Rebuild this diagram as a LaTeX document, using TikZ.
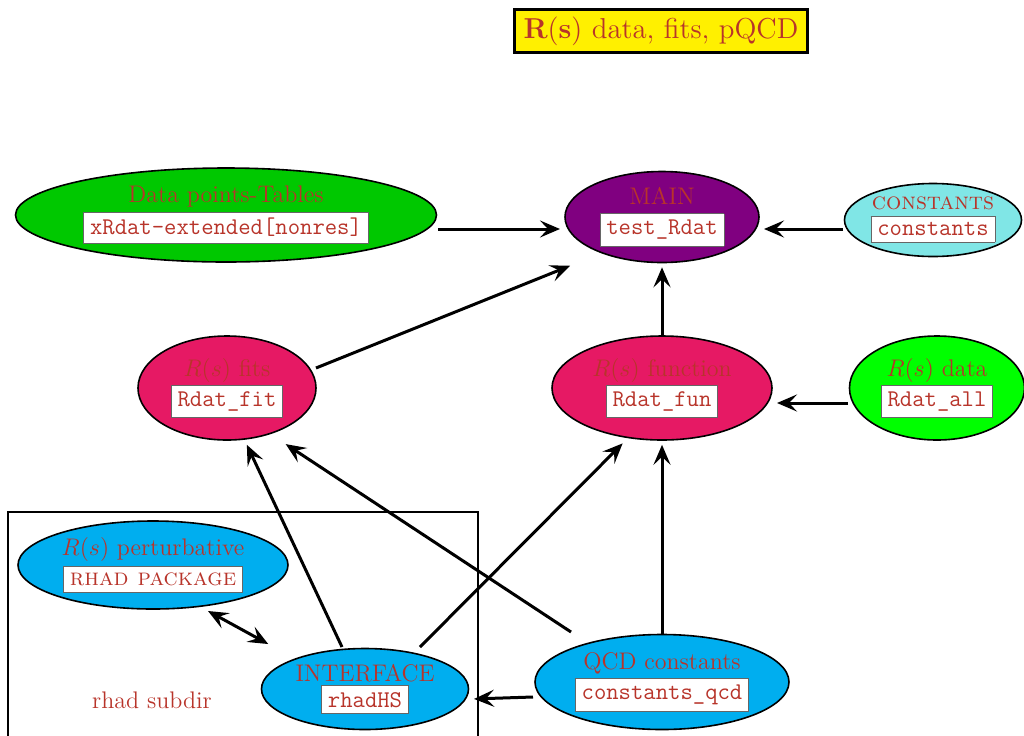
\documentclass[tikz,border=0pt]{standalone}
\usepackage{amsmath}
\usepackage{amssymb}
\usepackage{tikz}
\usetikzlibrary{arrows, arrows.meta, calc, shapes.geometric, positioning}
\usepackage{color}

\definecolor{txtred}{RGB}{184,52,42}
\definecolor{datagreen}{RGB}{0,200,0}
\definecolor{brightgreen}{RGB}{0,255,0}
\definecolor{mainviolet}{RGB}{128,0,128}
\definecolor{constcyan}{RGB}{128,230,230}
\definecolor{fitpink}{RGB}{230,25,100}
\definecolor{pqcdblue}{RGB}{0,174,239}
\definecolor{titleyellow}{RGB}{255,240,0}

\newcommand{\rfile}[1]{\fcolorbox{black!60}{white}{\texttt{#1}}}

\begin{document}
\begin{tikzpicture}[x=0.5pt, y=-0.5pt, shorten >=1pt, >={Stealth[length=10pt, width=8.5pt, inset=4pt]},
		fileball/.style={ellipse, draw=black, thick, inner sep=0pt, align=center, font=\large, text=txtred},
		link/.style={line width=1.5pt}]
			\useasboundingbox (0,0) rectangle (1024,735);
			% title and the rhad subdir frame
			\node[draw, very thick, fill=titleyellow, text=txtred, font=\Large, minimum width=146.5pt, minimum height=21.5pt] (title) at (661,31) {$\mathbf{R}(\mathbf{s})$ data, fits, pQCD};
			\draw[semithick] (8,512) rectangle (478,745);
			\node[text=txtred, font=\large] (subdir) at (152,700) {rhad subdir};
			% files
			\node[fileball, fill=datagreen, minimum width=210.5pt, minimum height=47pt] (data) at (226,215) {Data points-Tables\\[1pt] \rfile{xRdat-extended[nonres]}};
			\node[fileball, fill=mainviolet, minimum width=97pt, minimum height=45.5pt] (main) at (662,217) {MAIN\\[1pt] \rfile{test\_Rdat}};
			\node[fileball, fill=constcyan, minimum width=88.5pt, minimum height=36.5pt] (consts) at (933,220) {\textsc{constants}\\[-1pt] \rfile{constants}};
			\node[fileball, fill=fitpink, minimum width=89pt, minimum height=52pt] (fits) at (227,388) {$R(s)$ fits\\[1pt] \rfile{Rdat\_fit}};
			\node[fileball, fill=fitpink, minimum width=110pt, minimum height=52pt] (fun) at (662,388) {$R(s)$ function\\[1pt] \rfile{Rdat\_fun}};
			\node[fileball, fill=brightgreen, minimum width=87.5pt, minimum height=52pt] (rdata) at (937,388) {$R(s)$ data\\[1pt] \rfile{Rdat\_all}};
			\node[fileball, fill=pqcdblue, minimum width=135pt, minimum height=44pt] (pert) at (153,565) {$R(s)$ perturbative\\[1pt] \rfile{\textrm{\textsc{rhad package}}}};
			\node[fileball, fill=pqcdblue, minimum width=103.5pt, minimum height=40.5pt] (iface) at (365,689) {INTERFACE\\[-1pt] \rfile{rhadHS}};
			\node[fileball, fill=pqcdblue, minimum width=127pt, minimum height=47.5pt] (qcd) at (662,682) {QCD constants\\[1pt] \rfile{constants\_qcd}};
			% dependencies
			\path[->, link]
				($(data)+(212,14)$) edge ($(main)+(-100,12)$)
				($(consts)+(-90,9)$) edge ($(main)+(100,12)$)
				($(fits)+(89,-20)$) edge ($(main)+(-90,48)$)
				(fun.north) edge [shorten >=2pt] (main.south)
				($(rdata)+(-89,15)$) edge ($(fun)+(113,15)$)
				($(iface)+(-23,-42)$) edge ($(fits)+(19,55)$)
				($(iface)+(55,-42)$) edge ($(fun)+(-38,54)$)
				($(qcd)+(-91,-50)$) edge ($(fits)+(57,55)$)
				(qcd.north) edge [shorten >=2pt] (fun.south)
				($(qcd)+(-129,15)$) edge ($(iface)+(107,10)$);
			\draw[<->, link] ($(pert)+(55,46)$) -- ($(iface)+(-95,-44)$);
		\end{tikzpicture}
\end{document}
